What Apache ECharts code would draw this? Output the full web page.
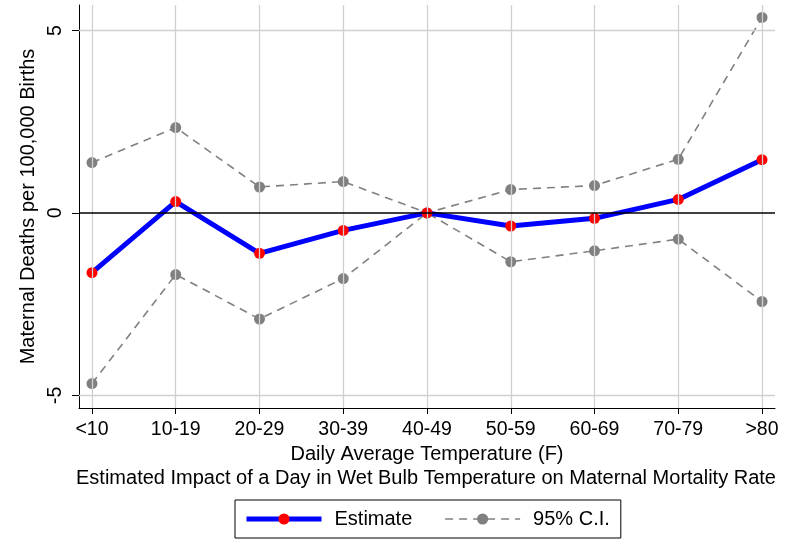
<!DOCTYPE html>
<html>
<head>
<meta charset="utf-8">
<script src="https://cdn.jsdelivr.net/npm/echarts@6/dist/echarts.min.js"></script>
<style>html,body{margin:0;padding:0;background:#fff}#c{width:806px;height:539px}</style>
</head>
<body>
<div id="c"></div>
<script>
const categories = ['<10','10-19','20-29','30-39','40-49','50-59','60-69','70-79','>80'];
const estimate = [-1.64, 0.31, -1.11, -0.48, 0, -0.36, -0.15, 0.37, 1.46];
const ciUpper  = [1.38, 2.34, 0.71, 0.86, 0, 0.64, 0.75, 1.47, 5.36];
const ciLower  = [-4.68, -1.69, -2.91, -1.80, 0, -1.34, -1.04, -0.72, -2.43];
const yTicks = [-5, 0, 5];

const idx = categories.map((c, i) => i);
const pts = arr => arr.map((v, i) => [i, v]);
const font = 'Liberation Sans, Arial, sans-serif';

const chart = echarts.init(document.getElementById('c'), null, {renderer: 'canvas'});
chart.setOption({
  animation: false,
  backgroundColor: '#fff',
  textStyle: {fontFamily: font},
  grid: {left: 79, right: 31, top: 5, bottom: 131, containLabel: false},
  xAxis: {
    type: 'value', min: -0.155, max: 8.155,
    axisLine: {show: true, onZero: false, lineStyle: {color: '#000', width: 1}},
    axisTick: {show: true, length: 6, customValues: idx, lineStyle: {color: '#000'}},
    axisLabel: {customValues: idx, formatter: v => categories[Math.round(v)], fontSize: 19.5, color: '#000', margin: 12, fontFamily: font},
    splitLine: {show: false},
    name: 'Daily Average Temperature (F)', nameLocation: 'middle', nameGap: 34,
    nameTextStyle: {fontSize: 20, color: '#000', fontFamily: font}
  },
  yAxis: {
    type: 'value', min: -5.35, max: 5.70,
    axisLine: {show: true, onZero: false, lineStyle: {color: '#000', width: 1}},
    axisTick: {show: true, length: 7, customValues: yTicks, lineStyle: {color: '#000'}},
    axisLabel: {customValues: yTicks, rotate: 90, fontSize: 19.5, color: '#000', margin: 13, fontFamily: font},
    splitLine: {show: false},
    name: 'Maternal Deaths per 100,000 Births', nameLocation: 'middle', nameGap: 39, nameRotate: 90,
    nameTextStyle: {fontSize: 20, color: '#000', fontFamily: font}
  },
  legend: {
    left: 235, top: 500,
    data: ['Estimate', '95% C.I.'],
    borderColor: '#000', borderWidth: 1, borderRadius: 0,
    padding: [9, 11, 9, 9],
    itemWidth: 75, itemHeight: 14, itemGap: 32,
    lineStyle: {width: 'inherit'},
    textStyle: {fontSize: 20, color: '#000', padding: [0, 0, 0, 8], fontFamily: font}
  },
  graphic: [{
    type: 'text', x: 426, y: 478,
    style: {text: 'Estimated Impact of a Day in Wet Bulb Temperature on Maternal Mortality Rate',
      fontSize: 20, fill: '#000', align: 'center', verticalAlign: 'middle', fontFamily: font}
  }],
  series: [
    {
      name: 'grid', type: 'line', data: [], silent: true, z: 1,
      markLine: {
        silent: true, symbol: 'none', label: {show: false}, animation: false,
        lineStyle: {color: '#d0d0d0', width: 1.3, type: 'solid'},
        data: idx.map(i => ({xAxis: i})).concat([{yAxis: 5}, {yAxis: -5}])
      }
    },
    {
      name: 'zero', type: 'line', data: [], silent: true, z: 2,
      markLine: {
        silent: true, symbol: 'none', label: {show: false}, animation: false,
        lineStyle: {color: '#000', width: 1.5, type: 'solid'},
        data: [{yAxis: 0}]
      }
    },
    {
      name: '95% C.I.', type: 'line', data: pts(ciUpper), z: 3,
      symbol: 'circle', symbolSize: 11,
      itemStyle: {color: '#808080'},
      lineStyle: {color: '#808080', width: 1.6, type: [8, 6]}
    },
    {
      name: '95% C.I.', type: 'line', data: pts(ciLower), z: 3,
      symbol: 'circle', symbolSize: 11,
      itemStyle: {color: '#808080'},
      lineStyle: {color: '#808080', width: 1.6, type: [8, 6]}
    },
    {
      name: 'Estimate', type: 'line', data: pts(estimate), z: 4,
      symbol: 'circle', symbolSize: 11,
      itemStyle: {color: '#ff0000'},
      lineStyle: {color: '#0000ff', width: 5}
    }
  ]
});
</script>
</body>
</html>
